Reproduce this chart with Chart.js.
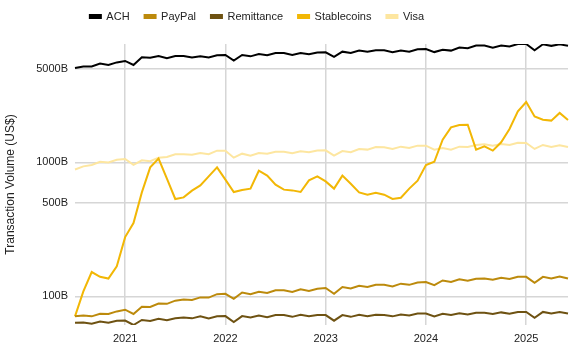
<!DOCTYPE html>
<html>
<head>
<meta charset="utf-8">
<script src="https://cdn.jsdelivr.net/npm/chart.js@4"></script>
<style>
  html, body { margin: 0; padding: 0; background: #fff; }
  #wrap { width: 579px; height: 354px; position: relative; }
</style>
</head>
<body>
<div id="wrap"><canvas id="volChart"></canvas></div>
<script>
// months Jul 2020 .. Jun 2025
const months = [];
for (let y = 2020; y <= 2025; y++) {
  for (let m = 1; m <= 12; m++) {
    if ((y === 2020 && m < 7) || (y === 2025 && m > 6)) continue;
    months.push(y + '-' + String(m).padStart(2, '0'));
  }
}

// values in billions of US$
const ach = [5060, 5200, 5200, 5460, 5330, 5570, 5710, 5330, 6080, 6030, 6220, 5980,
  6220, 6220, 6050, 6180, 6060, 6300, 6330, 5740, 6330, 6180, 6440, 6300,
  6550, 6550, 6330, 6550, 6400, 6600, 6620, 6120, 6700, 6550, 6820, 6680,
  6850, 6850, 6640, 6820, 6700, 6970, 7000, 6650, 6930, 6820, 7180, 7110,
  7430, 7430, 7180, 7430, 7320, 7640, 7640, 6850, 7600, 7400, 7600, 7400];
const paypal = [71, 72, 71, 74.3, 74, 77.3, 79.6, 74, 83.8, 83.5, 88.4, 88,
  93, 95, 94, 98.3, 98, 104, 104.6, 96, 107, 104, 108.4, 106,
  111, 111, 108, 113, 110, 114, 115.5, 104.7, 117.5, 114.5, 120, 117.5,
  122, 122, 118.7, 124.5, 122, 127, 128, 121.5, 131.6, 128, 134, 131,
  135.5, 136, 133, 138, 135, 140.4, 140, 126.5, 140, 136, 141, 136];
const remittance = [63.7, 64, 62.5, 65, 63.7, 65.9, 66, 61.2, 66.7, 65.5, 68.2, 66.5,
  68.6, 69.7, 68.6, 71, 68.6, 71, 71.3, 64.4, 71.3, 69.7, 72, 70,
  72.6, 72.6, 70.4, 73, 71, 72.8, 72.6, 65.9, 72.6, 70.4, 73, 71,
  73, 72.6, 71, 73.4, 72, 74.6, 74.6, 71, 74.2, 72.6, 75, 73.4,
  75.4, 75.4, 73.8, 76, 74.2, 76.6, 76.6, 69.3, 76.6, 74.6, 76.6, 74.6];
const stablecoins = [71, 109, 152, 140, 136, 168, 277, 353, 597, 918, 1066, 755,
  533, 548, 615, 673, 787, 918, 743, 601, 622, 637, 866, 796,
  682, 626, 618, 601, 734, 787, 721, 637, 796, 693, 597, 574,
  594, 574, 533, 545, 637, 730, 955, 1010, 1476, 1824, 1901, 1910,
  1245, 1318, 1224, 1412, 1775, 2400, 2818, 2203, 2083, 2049, 2338, 2069];
const visa = [884, 934, 957, 1011, 1000, 1047, 1059, 957, 1035, 1020, 1084, 1096,
  1148, 1152, 1140, 1175, 1150, 1222, 1222, 1084, 1161, 1120, 1175, 1161,
  1202, 1202, 1168, 1210, 1190, 1225, 1230, 1122, 1215, 1190, 1259, 1245,
  1303, 1295, 1259, 1310, 1280, 1333, 1333, 1245, 1279, 1245, 1310, 1303,
  1349, 1365, 1333, 1372, 1349, 1402, 1395, 1259, 1349, 1303, 1340, 1303];

const yTicks = [100, 500, 1000, 5000];

const seriesNames = ['ACH', 'PayPal', 'Remittance', 'Stablecoins', 'Visa'];
const seriesData = [ach, paypal, remittance, stablecoins, visa];
const seriesColors = ['#000000', '#bc8a0c', '#6e5212', '#f2b705', '#fde6a0'];

const allVals = [].concat(...seriesData);
const yMin = Math.min(...allVals);
const yMax = Math.max(...allVals);

const font = 'Arial, "Liberation Sans", sans-serif';

// tweak legend box: fixed height, nudged up and to the left
const legendTweak = {
  id: 'legendTweak',
  beforeInit(chart) {
    const fit = chart.legend.fit;
    chart.legend.fit = function () {
      fit.call(this);
      this.height = 44;
    };
  },
  afterLayout(chart) {
    chart.legend.top = -4;
    chart.legend.left -= 27;
    chart.legend.right -= 27;
  }
};

const ctx = document.getElementById('volChart').getContext('2d');
new Chart(ctx, {
  type: 'line',
  data: {
    labels: months,
    datasets: seriesNames.map((name, i) => ({
      label: name,
      data: seriesData[i],
      borderColor: seriesColors[i],
      backgroundColor: seriesColors[i],
      borderWidth: 2,
      pointRadius: 0,
      tension: 0
    }))
  },
  options: {
    responsive: true,
    maintainAspectRatio: false,
    animation: false,
    layout: { padding: { left: 0, right: 11, top: 0, bottom: 0 } },
    plugins: {
      legend: {
        position: 'top',
        labels: {
          boxWidth: 11,
          boxHeight: 3,
          padding: 15,
          color: '#222',
          font: { family: font, size: 11 }
        }
      },
      tooltip: { enabled: false }
    },
    scales: {
      x: {
        type: 'category',
        offset: false,
        border: { display: false },
        grid: { color: '#d6d6d6', lineWidth: 1.5, drawTicks: false },
        ticks: {
          autoSkip: false,
          maxRotation: 0,
          padding: 7,
          color: '#222',
          font: { family: font, size: 11 },
          callback: (v) => months[v].slice(0, 4)
        },
        afterBuildTicks: (scale) => {
          scale.ticks = scale.ticks.filter(t => months[t.value].endsWith('-01'));
        },
        afterFit: (scale) => { scale.height = 29; }
      },
      y: {
        type: 'logarithmic',
        min: yMin,
        max: yMax,
        border: { display: false },
        grid: { color: '#d6d6d6', lineWidth: 1.5, drawTicks: false },
        ticks: {
          padding: 7,
          color: '#222',
          font: { family: font, size: 11 },
          callback: (v) => v + 'B'
        },
        afterBuildTicks: (scale) => {
          scale.ticks = yTicks.map(v => ({ value: v }));
        },
        title: {
          display: true,
          text: 'Transaction Volume (US$)',
          color: '#222',
          font: { family: font, size: 12 },
          padding: { top: 3, bottom: 0 }
        },
        afterFit: (scale) => { scale.width = 75; }
      }
    }
  },
  plugins: [legendTweak]
});
</script>
</body>
</html>
